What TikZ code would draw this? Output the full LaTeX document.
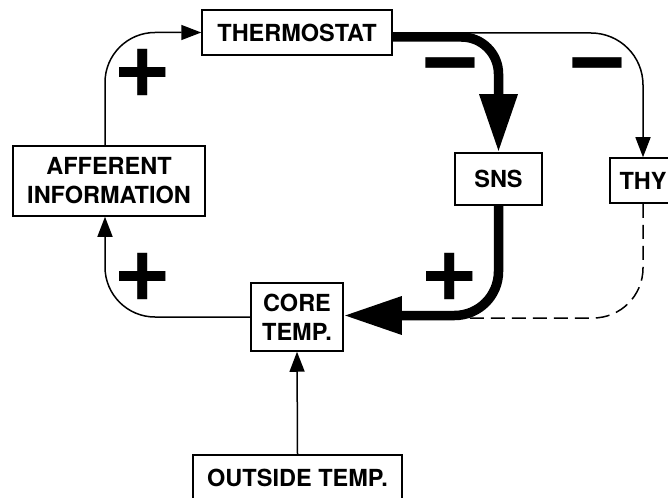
\documentclass[tikz,border=0pt]{standalone}
\usepackage{fontspec}
\setmainfont{TeX Gyre Heros}
\usetikzlibrary{arrows.meta}
\begin{document}
\begin{tikzpicture}[x=1pt,y=-1pt,
  box/.style={draw, line width=1.5pt, inner sep=0pt, font=\bfseries\fontsize{23.5}{29}\selectfont, align=center},
  thinarrow/.style={line width=1.5pt, -{Triangle[length=20pt,width=15pt]}},
  thickarrow/.style={line width=9.5pt, -{Triangle[length=58pt,width=36pt]}},
  dashline/.style={line width=1.5pt, dash pattern=on 14pt off 7pt},
  plussign/.style={inner sep=0pt, font=\bfseries\fontsize{100}{100}\selectfont},
  minussign/.style={inner sep=0pt, font=\bfseries\fontsize{106}{106}\selectfont}]
\clip (0,0) rectangle (668,497);
\fill[white] (0,0) rectangle (668,497);
% boxes
\node[box, minimum width=190pt, minimum height=45pt] (thermo) at (297,32.5) {THERMOSTAT};
\node[box, minimum width=192pt, minimum height=70pt] (aff) at (109,181) {AFFERENT\\INFORMATION};
\node[box, minimum width=87pt, minimum height=52pt] (sns) at (498.5,179) {SNS};
\node[box, minimum width=66pt, minimum height=45pt] (thy) at (643,180.5) {THY};
\node[box, minimum width=92pt, minimum height=68pt] (core) at (297,317) {CORE\\TEMP.};
\node[box, minimum width=209pt, minimum height=46pt] (out) at (297.5,478) {OUTSIDE TEMP.};
% connectors
\draw[thinarrow, rounded corners=50pt] ([xshift=-4pt]aff.north) |- (thermo.west);
\draw[thinarrow, rounded corners=50pt] (core.west) -| ([xshift=-4pt]aff.south);
\draw[thinarrow, rounded corners=52pt] ([yshift=-0.5pt]thermo.east) -| (thy.north);
\draw[thickarrow, rounded corners=37pt] ([yshift=-4.5pt]thermo.east) -| (sns.north);
\coordinate (dend) at (455,318);
\draw[dashline, rounded corners=50pt] (thy.south) |- (dend);
\draw[thickarrow, rounded corners=44pt] (sns.south) |- ([yshift=1.5pt]core.east);
\draw[thinarrow] (out.north) -- (core.south);
% signs
\node[plussign] (p1) at (143,73) {+};
\node[minussign] (m1) at (450,74) {−};
\node[minussign] (m2) at (597,74) {−};
\node[plussign] (p2) at (143,277) {+};
\node[plussign] (p3) at (450,277) {+};
\end{tikzpicture}
\end{document}
